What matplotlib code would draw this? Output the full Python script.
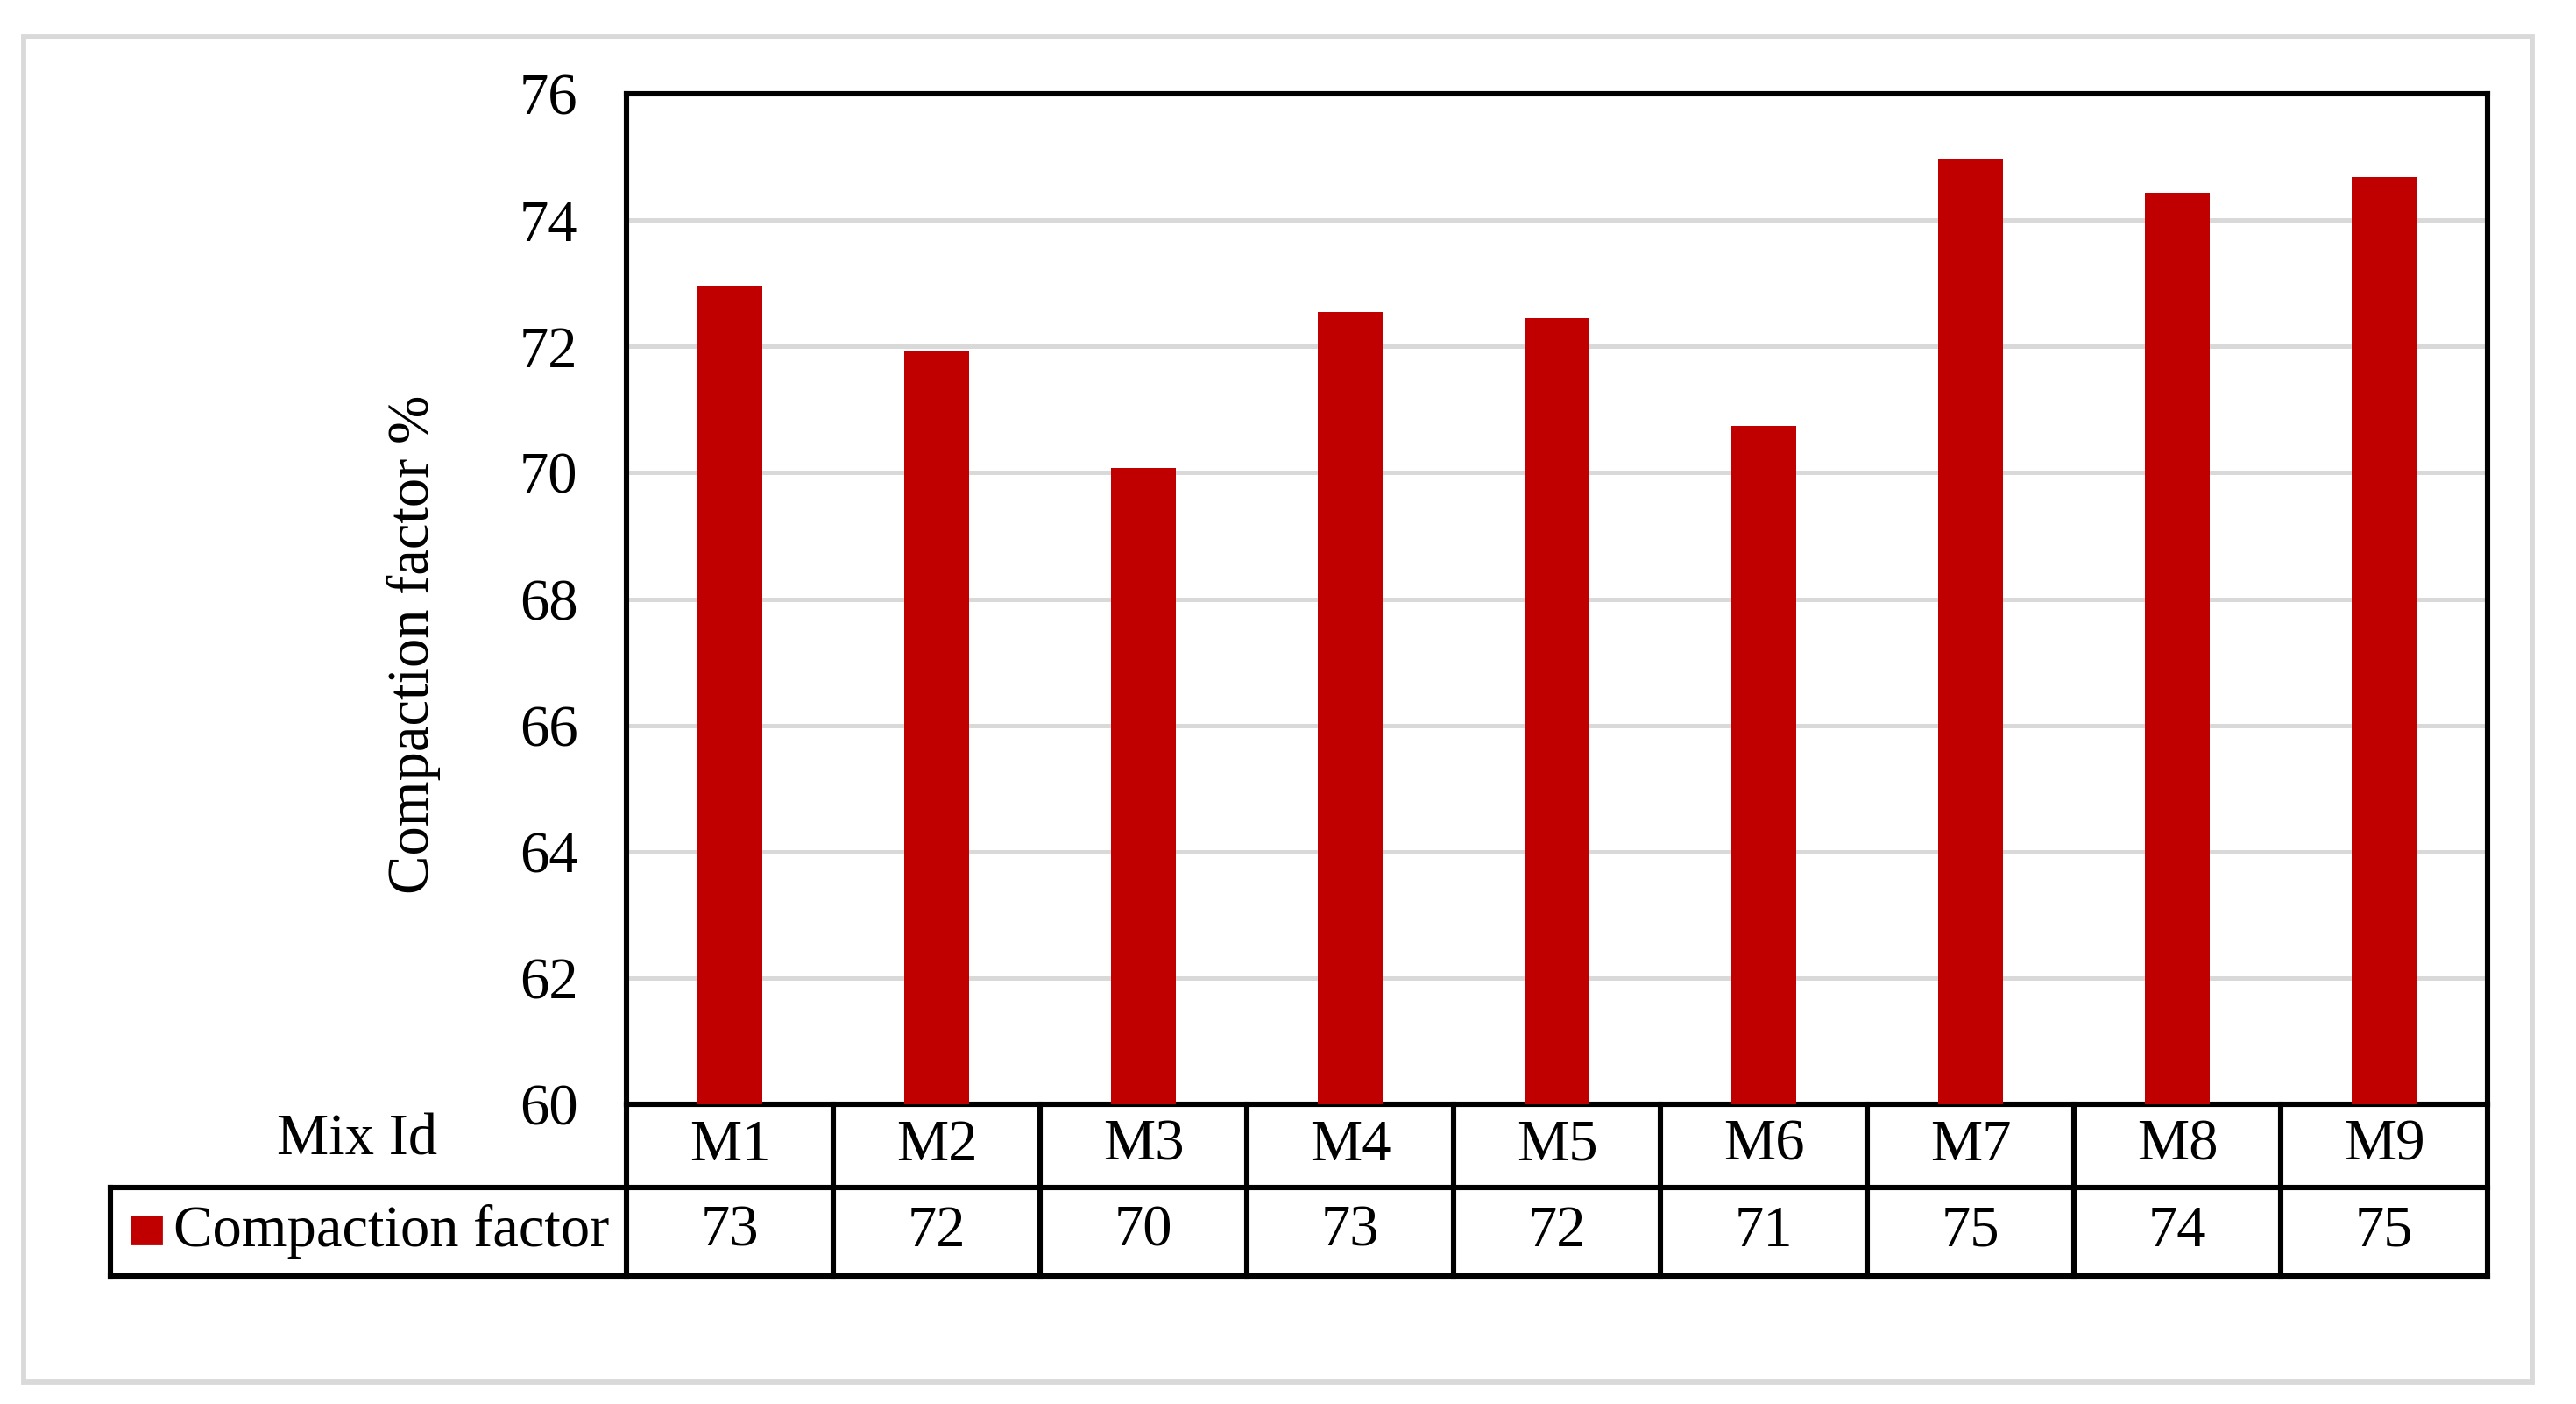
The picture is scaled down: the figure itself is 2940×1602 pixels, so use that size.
import matplotlib
matplotlib.use("Agg")
import matplotlib.pyplot as plt
from matplotlib.patches import Rectangle
from matplotlib.lines import Line2D
from matplotlib.transforms import blended_transform_factory

# data
mixes = ["M1", "M2", "M3", "M4", "M5", "M6", "M7", "M8", "M9"]
compaction = [72.96, 71.92, 70.07, 72.55, 72.45, 70.74, 74.98, 74.43, 74.68]
table_vals = ["73", "72", "70", "73", "72", "71", "75", "74", "75"]
yticks = [60, 62, 64, 66, 68, 70, 72, 74, 76]

RED = "#C00000"
GRID = "#D9D9D9"
FS = 24

plt.rcParams['font.family'] = ['Liberation Serif', 'DejaVu Serif']

fig = plt.figure(figsize=(14.7, 8.01), dpi=200)
W, H = 2940, 1602
# plot area in pixel coords of the reference
x0, x1, y0, y1 = 715, 2839, 107, 1260
ax = fig.add_axes([x0 / W, 1 - y1 / H, (x1 - x0) / W, (y1 - y0) / H])

xs = list(range(len(mixes)))
ax.bar(xs, compaction, width=0.313, bottom=0, color=RED, zorder=3)
ax.set_xlim(-0.5, len(mixes) - 0.5)
ax.set_ylim(60, 76)
ax.set_yticks(yticks)
ax.set_yticklabels([str(t) for t in yticks], fontsize=FS)
ax.tick_params(axis='y', length=0, pad=20)
ax.set_xticks([])
ax.yaxis.grid(True, color=GRID, lw=1.8, zorder=0)
ax.set_axisbelow(True)
lw = 2.2
for s in ax.spines.values():
    s.set_color("black")
    s.set_linewidth(lw)

# data table under the plot
ah = y1 - y0
aw = x1 - x0
r1 = -(1354.5 - y1) / ah
r2 = -(1456 - y1) / ah
xl = (126 - x0) / aw


def hline(y, xa, xb, tr=ax.transAxes):
    ax.add_line(Line2D([xa, xb], [y, y], color="black", lw=lw, transform=tr,
                       clip_on=False, solid_capstyle='projecting'))


def vline(x, ya, yb, tr):
    ax.add_line(Line2D([x, x], [ya, yb], color="black", lw=lw, transform=tr,
                       clip_on=False, solid_capstyle='projecting'))


bt = blended_transform_factory(ax.transData, ax.transAxes)
hline(r1, xl, 1)
hline(r2, xl, 1)
vline(xl, r1, r2, ax.transAxes)
for i in range(len(mixes) + 1):
    vline(i - 0.5, 0, r2, bt)

for i, (m, v) in enumerate(zip(mixes, table_vals)):
    ax.text(i, r1 / 2, m, transform=bt, ha='center', va='center', fontsize=FS)
    ax.text(i, (r1 + r2) / 2, v, transform=bt, ha='center', va='center', fontsize=FS)

ax.text((408 - x0) / aw, -(1301 - y1) / ah, "Mix Id", transform=ax.transAxes,
        ha='center', va='center', fontsize=FS)
ax.add_patch(Rectangle(((150 - x0) / aw, -(1419 - y1) / ah), 34 / aw, 31 / ah,
                       transform=ax.transAxes, color=RED, clip_on=False))
ax.text((198 - x0) / aw, (r1 + r2) / 2, "Compaction factor", transform=ax.transAxes,
        ha='left', va='center', fontsize=FS)

fig.text(472 / W, 1 - 735 / H, "Compaction factor %", rotation=90,
         ha='center', va='center', fontsize=FS)

# light chart-area border
fig.patches.append(Rectangle((27 / W, 1 - 1577 / H), (2890 - 27) / W, (1577 - 42) / H,
                             transform=fig.transFigure, fill=False, ec=GRID, lw=2.1))

fig.savefig("out.png", dpi=200)
